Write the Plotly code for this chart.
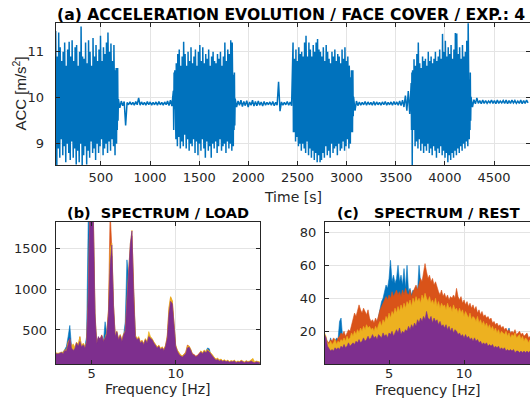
import numpy as np
import plotly.graph_objects as go

# ---------------- (a) acceleration time history ----------------
# segment boundaries [s]: burst1, rest1, burst2, rest2, burst3, rest3, burst4, rest4
SEGMENT_EDGES = [40, 678, 1237, 1866, 2455, 3071, 3657, 4266, 4861]

B1_HI = [11.45, 10.9, 11.42, 11.1, 10.8, 11.0, 11.2, 10.7, 11.05, 11.22, 10.9, 11.25, 10.8, 11.1,
         11.15, 10.7, 11.0, 11.55, 10.9, 10.85, 11.2, 10.75, 11.25, 11.0, 10.7, 11.3, 10.9, 11.15,
         10.8, 11.05, 11.35, 10.8, 11.1, 10.95, 11.2, 11.42, 11.0, 11.18, 10.8, 11.15, 10.6, 10.45]
B1_LO = [8.5, 8.9, 8.7, 9.1, 8.75, 8.95, 8.6, 9.0, 8.8, 8.65, 9.05, 8.7, 8.9, 8.55, 8.85, 8.6,
         9.0, 8.5, 8.75, 8.95, 8.55, 8.85, 8.7, 9.05, 8.8, 8.9, 8.65, 9.0, 8.8, 8.95, 9.1, 8.75,
         8.9, 9.0, 8.8, 9.05, 8.85, 9.1, 8.95, 8.75, 9.0, 9.5]
Q1_HI = [9.97, 9.93, 9.92, 9.90, 9.91, 9.90, 9.92, 10.00, 9.91, 9.90, 9.92, 9.91, 9.90, 9.91,
         9.92, 9.90, 9.91, 9.93, 9.95]
Q1_LO = [9.78, 9.83, 9.40, 9.85, 9.85, 9.84, 9.85, 9.84, 9.85, 9.84, 9.85, 9.84, 9.85, 9.84,
         9.85, 9.84, 9.85, 9.83, 9.82]
B2_HI = [10.15, 10.6, 10.75, 10.95, 11.05, 10.7, 10.9, 11.22, 10.95, 10.7, 11.0, 10.8, 11.1, 10.75,
         10.9, 11.05, 10.7, 11.0, 11.15, 10.8, 11.1, 10.75, 10.95, 10.85, 11.05, 10.7, 10.9, 11.0,
         10.8, 10.75, 10.95, 10.85, 11.0, 10.7, 10.9, 11.2, 10.8, 11.05, 10.95, 11.25, 11.2, 10.5]
B2_LO = [9.75, 9.1, 8.95, 9.15, 8.9, 9.05, 8.95, 9.2, 8.9, 9.1, 8.85, 9.0, 8.95, 9.1, 8.8, 9.05,
         8.75, 9.0, 8.85, 9.1, 8.9, 8.7, 9.05, 8.85, 8.95, 8.7, 9.0, 8.9, 9.05, 8.8, 8.95, 9.1,
         8.85, 8.95, 9.0, 8.8, 9.05, 8.9, 9.0, 8.85, 8.95, 9.4]
Q2_HI = [9.98, 9.93, 9.95, 9.92, 9.94, 9.91, 9.95, 9.92, 9.93, 9.91, 9.92, 9.90, 9.91, 9.92,
         9.90, 10.35, 9.91, 9.90, 9.92, 9.91]
Q2_LO = [9.80, 9.84, 9.81, 9.83, 9.80, 9.84, 9.82, 9.83, 9.84, 9.82, 9.84, 9.85, 9.84, 9.83,
         9.84, 9.71, 9.84, 9.85, 9.84, 9.83]
B3_HI = [11.2, 10.85, 11.05, 10.8, 11.1, 10.95, 11.0, 10.9, 11.2, 11.35, 10.9, 11.2, 11.05, 10.9,
         11.15, 11.0, 11.2, 11.28, 11.05, 11.0, 10.9, 11.1, 10.8, 11.15, 11.0, 10.85, 10.75, 11.0,
         10.9, 11.05, 10.8, 10.95, 10.9, 10.75, 11.05, 10.85, 11.1, 10.8, 10.9, 10.7, 10.45, 10.3]
B3_LO = [9.3, 9.05, 9.15, 8.95, 9.0, 8.85, 9.0, 8.9, 8.8, 9.05, 8.75, 8.9, 8.7, 8.85, 8.65, 8.8,
         8.6, 8.75, 8.6, 8.65, 8.8, 8.7, 8.95, 8.75, 8.85, 8.7, 9.0, 8.8, 8.9, 8.95, 8.75, 9.0,
         8.85, 8.9, 9.05, 8.85, 8.95, 9.1, 8.9, 9.0, 9.3, 9.6]
Q3_HI = [10.02, 9.93, 9.91, 9.90, 9.92, 9.91, 9.90, 9.92, 9.91, 9.90, 9.91, 9.92, 9.90, 9.91,
         9.92, 9.91, 9.93, 9.95, 10.05, 10.15]
Q3_LO = [9.72, 9.83, 9.84, 9.85, 9.84, 9.85, 9.84, 9.84, 9.85, 9.84, 9.85, 9.84, 9.85, 9.84,
         9.85, 9.84, 9.83, 9.80, 9.72, 9.65]
B4_HI = [10.32, 10.6, 10.84, 10.7, 10.95, 11.2, 10.75, 10.65, 10.9, 10.8, 10.85, 10.7, 11.0, 10.8,
         10.9, 10.75, 10.85, 11.0, 10.8, 10.9, 11.05, 10.85, 11.39, 11.0, 11.24, 10.9, 11.1, 10.95,
         11.15, 10.85, 11.05, 11.41, 11.4, 10.95, 11.1, 10.85, 11.15, 10.9, 11.0, 11.24, 11.7, 10.4]
B4_LO = [8.52, 9.3, 8.95, 9.05, 8.9, 9.1, 8.85, 9.0, 8.8, 8.95, 8.85, 9.0, 8.8, 8.9, 8.75, 8.95,
         8.85, 8.7, 8.9, 8.8, 8.95, 8.75, 8.85, 8.7, 8.8, 8.6, 8.75, 8.65, 8.8, 8.7, 8.85, 8.75,
         8.9, 8.8, 8.95, 8.85, 9.0, 8.9, 9.05, 8.95, 9.1, 9.5]
Q4_HI = [10.02, 9.96, 10.00, 9.94, 9.95, 9.94, 9.93, 9.95, 9.94, 9.95, 9.93, 9.94, 9.95, 9.94,
         9.95, 9.94, 9.93, 9.95, 9.94, 9.95]
Q4_LO = [9.80, 9.87, 9.88, 9.87, 9.88, 9.88, 9.89, 9.88, 9.87, 9.88, 9.89, 9.88, 9.87, 9.88,
         9.89, 9.88, 9.88, 9.87, 9.88, 9.89]
# dense core band of each segment (None for the rest periods)
CORE_HI = [10.65, None, 10.55, None, 10.6, None, 10.55, None]
CORE_LO = [9.3, None, 9.3, None, 9.25, None, 9.3, None]

SEG_HI = [B1_HI, Q1_HI, B2_HI, Q2_HI, B3_HI, Q3_HI, B4_HI, Q4_HI]
SEG_LO = [B1_LO, Q1_LO, B2_LO, Q2_LO, B3_LO, Q3_LO, B4_LO, Q4_LO]

TIME_TICKS = [500, 1000, 1500, 2000, 2500, 3000, 3500, 4000, 4500]
ACC_TICKS = [9, 10, 11]

# ---------------- (b) spectrum during load ----------------
FREQ_LOAD = np.round(np.arange(2.8, 15.0001, 0.1), 2)
LOAD_BLUE = [190, 200, 215, 205, 220, 230, 260, 300, 420, 555,
             300, 240, 260, 320, 290, 340, 280, 300, 300, 420,
             1900, 1900, 1800, 1700, 600, 320, 400, 370, 420, 350,
             600, 440, 650, 1200, 1400, 700, 400, 460, 370, 420,
             350, 430, 600, 1357, 1150, 1400, 1500, 850, 400, 370,
             390, 330, 350, 310, 370, 330, 400, 390, 370, 330,
             290, 270, 290, 250, 270, 240, 290, 380, 650, 800,
             780, 480, 290, 230, 190, 170, 160, 180, 200, 270,
             280, 240, 190, 180, 160, 170, 190, 220, 200, 230,
             240, 280, 270, 190, 170, 140, 125, 130, 115, 125,
             110, 120, 105, 115, 100, 110, 105, 115, 95, 105,
             100, 115, 105, 95, 110, 100, 105, 115, 100, 95,
             105, 100, 95]
LOAD_ORANGE = [195, 205, 210, 210, 220, 220, 255, 250, 360, 380,
               290, 260, 280, 350, 310, 418, 300, 330, 290, 340,
               850, 1950, 2000, 1850, 650, 340, 410, 390, 440, 370,
               390, 460, 750, 1950, 1500, 780, 430, 470, 390, 440,
               370, 450, 470, 850, 1150, 1500, 1650, 880, 430, 390,
               410, 350, 370, 330, 390, 350, 430, 410, 390, 350,
               310, 290, 310, 270, 290, 260, 310, 420, 750, 900,
               850, 510, 310, 250, 210, 190, 180, 200, 230, 316,
               300, 260, 210, 200, 180, 190, 210, 240, 220, 250,
               230, 260, 240, 210, 190, 160, 140, 150, 130, 140,
               120, 130, 115, 125, 110, 120, 115, 125, 105, 115,
               110, 125, 115, 105, 120, 110, 115, 130, 110, 105,
               115, 110, 105]
LOAD_YELLOW = [215, 220, 215, 220, 230, 225, 260, 250, 350, 390,
               300, 330, 290, 350, 320, 418, 300, 340, 300, 360,
               880, 1980, 2000, 1950, 720, 320, 400, 370, 420, 350,
               410, 470, 720, 1500, 1560, 820, 440, 490, 390, 445,
               380, 455, 490, 920, 1220, 1560, 1720, 920, 440, 395,
               420, 355, 375, 335, 395, 355, 480, 420, 395, 355,
               315, 295, 315, 275, 295, 265, 315, 430, 780, 908,
               860, 520, 315, 255, 215, 195, 185, 205, 225, 300,
               305, 265, 195, 185, 165, 175, 195, 245, 225, 255,
               235, 265, 245, 215, 195, 165, 145, 155, 135, 145,
               125, 135, 120, 130, 115, 125, 120, 130, 110, 120,
               115, 130, 120, 110, 125, 115, 120, 135, 153, 110,
               120, 115, 110]
LOAD_PURPLE = [200, 210, 205, 215, 225, 210, 250, 240, 330, 400,
               280, 250, 270, 340, 300, 360, 290, 320, 280, 350,
               900, 2000, 2000, 1900, 700, 330, 420, 380, 430, 360,
               400, 450, 700, 1300, 1540, 800, 420, 480, 380, 430,
               360, 440, 480, 900, 1200, 1550, 1710, 900, 420, 380,
               400, 340, 360, 320, 380, 340, 420, 400, 380, 340,
               300, 280, 300, 260, 280, 250, 300, 400, 700, 850,
               820, 500, 300, 240, 200, 180, 170, 190, 210, 280,
               290, 250, 200, 190, 170, 180, 200, 230, 210, 240,
               220, 250, 230, 200, 180, 150, 130, 140, 120, 130,
               115, 125, 110, 120, 105, 115, 110, 120, 100, 110,
               105, 120, 110, 100, 115, 105, 110, 120, 105, 100,
               110, 105, 100]
LOAD_XTICKS = [5, 10]
LOAD_YTICKS = [500, 1000, 1500]

# ---------------- (c) spectrum during rest ----------------
FREQ_REST = np.round(np.arange(0.7, 14.4001, 0.1), 2)
REST_BLUE = [17, 14, 13, 12, 16, 13, 15, 14, 16, 15,
             26, 28, 17, 18, 16, 18, 19, 18, 22, 25,
             28, 27, 30, 33, 31, 29, 31, 30, 28, 30,
             26, 24, 25, 23, 26, 25, 29, 34, 38, 40,
             44, 48, 46, 52, 63, 50, 54, 49, 52, 60,
             50, 54, 48, 58, 46, 60, 44, 46, 42, 45,
             43, 47, 44, 60, 50, 48, 52, 58, 52, 50,
             49, 47, 49, 44, 46, 44, 42, 40, 43, 39,
             41, 38, 40, 37, 39, 38, 40, 38, 42, 39,
             37, 39, 35, 37, 34, 36, 33, 35, 32, 34,
             31, 33, 29, 31, 28, 30, 27, 28, 26, 27,
             25, 26, 23, 24, 22, 23, 21, 22, 20, 21,
             20, 21, 19, 22, 18, 19, 18, 19, 17, 18,
             18, 17, 18, 16, 17, 18, 15, 16]
REST_ORANGE = [18, 15, 14, 13, 15, 14, 16, 15, 14, 16,
               17, 19, 18, 20, 17, 19, 21, 20, 24, 28,
               31, 29, 33, 36, 33, 31, 34, 32, 30, 33,
               28, 26, 27, 25, 28, 26, 30, 33, 35, 37,
               38, 41, 39, 42, 40, 44, 41, 43, 45, 42,
               44, 41, 45, 42, 46, 43, 42, 45, 41, 44,
               46, 48, 45, 49, 52, 50, 55, 61, 56, 52,
               54, 50, 52, 48, 50, 46, 44, 42, 45, 41,
               43, 40, 42, 39, 41, 40, 42, 40, 46, 41,
               39, 41, 37, 39, 36, 38, 35, 37, 34, 36,
               33, 35, 31, 33, 30, 32, 29, 30, 28, 29,
               27, 28, 25, 26, 24, 25, 23, 24, 22, 23,
               21, 22, 20, 21, 19, 20, 19, 21, 18, 19,
               20, 18, 19, 17, 18, 19, 16, 17]
REST_YELLOW = [19, 17, 13, 12, 14, 12, 13, 15, 12, 14,
               13, 15, 14, 16, 14, 17, 15, 16, 19, 17,
               20, 18, 21, 19, 22, 20, 23, 21, 24, 22,
               23, 21, 22, 20, 23, 21, 24, 26, 23, 27,
               25, 29, 27, 31, 28, 32, 30, 34, 31, 35,
               32, 36, 33, 37, 34, 38, 36, 39, 35, 40,
               37, 41, 38, 40, 37, 42, 39, 43, 40, 38,
               41, 37, 39, 36, 40, 35, 38, 34, 37, 35,
               36, 33, 37, 34, 35, 32, 36, 33, 34, 31,
               34, 31, 33, 29, 32, 30, 28, 31, 27, 29,
               28, 26, 29, 25, 27, 24, 26, 23, 25, 22,
               24, 21, 23, 20, 22, 19, 21, 18, 20, 19,
               18, 20, 17, 19, 16, 18, 17, 19, 16, 17,
               18, 15, 17, 14, 16, 15, 13, 15]
REST_PURPLE = [18, 16, 11, 9, 8, 9, 8, 10, 9, 10,
               9, 11, 10, 12, 10, 11, 13, 11, 12, 13,
               12, 14, 13, 15, 13, 14, 16, 14, 15, 17,
               15, 16, 18, 16, 17, 15, 18, 17, 16, 19,
               17, 18, 16, 19, 18, 20, 17, 19, 21, 19,
               22, 18, 20, 19, 21, 20, 23, 21, 24, 22,
               25, 23, 27, 25, 28, 26, 29, 27, 32, 28,
               27, 29, 25, 28, 26, 27, 24, 26, 23, 24,
               22, 24, 21, 23, 20, 22, 19, 21, 20, 18,
               19, 17, 18, 16, 18, 16, 17, 15, 16, 14,
               16, 14, 15, 13, 14, 12, 13, 12, 13, 11,
               12, 11, 12, 10, 11, 10, 11, 9, 10, 9,
               10, 8, 9, 8, 9, 8, 9, 7, 8, 8,
               7, 8, 7, 8, 7, 8, 7, 8]
REST_XTICKS = [5, 10]
REST_YTICKS = [20, 40, 60, 80]

COLORS = ["#0072BD", "#D95319", "#EDB120", "#7E2F8E"]

# ---------- build time trace (envelope + core per bin) ----------
t_pts, a_pts = [], []
for k, (hi, lo) in enumerate(zip(SEG_HI, SEG_LO)):
    t0, t1 = SEGMENT_EDGES[k], SEGMENT_EDGES[k + 1]
    n = len(hi)
    dt = (t1 - t0) / n
    for i in range(n):
        t = t0 + i * dt
        if CORE_HI[k] is None:
            t_pts += [t, t + dt / 2]
            a_pts += [hi[i], lo[i]]
        else:
            t_pts += [t, t + dt / 4, t + dt / 2, t + 3 * dt / 4]
            a_pts += [hi[i], CORE_LO[k], CORE_HI[k], lo[i]]

W, H = 530, 401
def px(x):
    return x / W
def py(y):
    return 1 - y / H

TXT = "#262626"
GRID = "#e4e4e4"
TICKFONT = dict(family="DejaVu Sans", size=13, color=TXT)

fig = go.Figure()
fig.add_trace(go.Scatter(x=t_pts, y=a_pts, mode="lines", line=dict(color=COLORS[0], width=1.5),
                         xaxis="x", yaxis="y", showlegend=False, hoverinfo="skip"))

for series, col in zip([LOAD_BLUE, LOAD_ORANGE, LOAD_YELLOW, LOAD_PURPLE], COLORS):
    fig.add_trace(go.Scatter(x=FREQ_LOAD, y=series, mode="lines", fill="tozeroy",
                             fillcolor=col, line=dict(color=col, width=0.6),
                             xaxis="x2", yaxis="y2", showlegend=False, hoverinfo="skip"))
for series, col in zip([REST_BLUE, REST_ORANGE, REST_YELLOW, REST_PURPLE], COLORS):
    fig.add_trace(go.Scatter(x=FREQ_REST, y=series, mode="lines", fill="tozeroy",
                             fillcolor=col, line=dict(color=col, width=0.6),
                             xaxis="x3", yaxis="y3", showlegend=False, hoverinfo="skip"))

def ax(domain, rng, tickvals, anchor, standoff=0, mirror="ticks"):
    return dict(domain=domain, range=rng, tickvals=tickvals, anchor=anchor,
                showgrid=True, gridcolor=GRID, gridwidth=1, zeroline=False,
                showline=True, linecolor=TXT, linewidth=1, mirror=mirror,
                ticks="inside", ticklen=4, tickcolor=TXT, tickwidth=1,
                tickfont=TICKFONT, ticklabelstandoff=standoff)

A_TOP, A_BOT = 23.3, 165.0
L_TOP, L_BOT = 221.5, 364.3

fig.update_layout(
    width=W, height=H, margin=dict(l=0, r=0, t=0, b=0),
    paper_bgcolor="white", plot_bgcolor="white",
    xaxis=ax([px(55.7), px(529.5)], [40, 4861], TIME_TICKS, "y", 0),
    yaxis=ax([py(A_BOT), py(A_TOP)], [8.54, 11.62], ACC_TICKS, "x", 8),
    xaxis2=ax([px(55.7), px(260)], [2.86, 15.02], LOAD_XTICKS, "y2", -3),
    yaxis2=ax([py(L_BOT), py(L_TOP)], [80, 1826], LOAD_YTICKS, "x2", 5),
    xaxis3=ax([px(325), 1.0], [0.73, 14.4], REST_XTICKS, "y3", -3),
    yaxis3=ax([py(L_BOT), py(L_TOP)], [0, 86.5], REST_YTICKS, "x3", 5, mirror=False),
)

TITLE_FONT = dict(family="DejaVu Sans", size=15.6, color="black")
LABEL_FONT = dict(family="DejaVu Sans", size=14, color=TXT)
ann = [
    dict(text="<b>(a) ACCELERATION EVOLUTION / FACE COVER / EXP.: 4</b>", x=px(54.5), y=py(14.5),
         xanchor="left", yanchor="middle", font=TITLE_FONT),
    dict(text="Time [s]", x=px(292.6), y=py(197), xanchor="center", yanchor="middle", font=LABEL_FONT),
    dict(text="ACC [m/s<sup>2</sup>]", x=px(18.6), y=py(94), textangle=-90, xanchor="center",
         yanchor="middle", font=dict(family="Liberation Sans", size=15, color=TXT)),
    dict(text="<b>(b)\u00a0\u00a0SPECTRUM / LOAD</b>", x=px(158), y=py(213), xanchor="center",
         yanchor="middle", font=dict(family="DejaVu Sans", size=14.5, color="black")),
    dict(text="<b>(c)\u00a0\u00a0\u00a0SPECTRUM / REST</b>", x=px(428), y=py(213), xanchor="center",
         yanchor="middle", font=dict(family="DejaVu Sans", size=14.5, color="black")),
    dict(text="Frequency [Hz]", x=px(158), y=py(389), xanchor="center", yanchor="middle", font=LABEL_FONT),
    dict(text="Frequency [Hz]", x=px(428), y=py(390), xanchor="center", yanchor="middle", font=LABEL_FONT),
]
for a in ann:
    a.update(xref="paper", yref="paper", showarrow=False)
fig.update_layout(annotations=ann)

fig.write_html("out.html")
